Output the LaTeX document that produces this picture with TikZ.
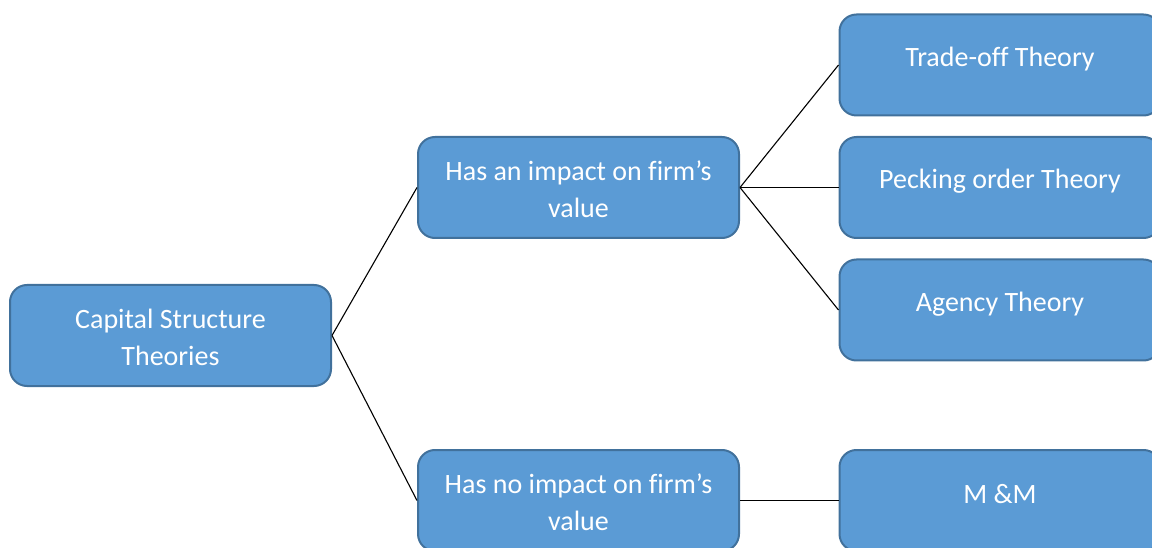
\documentclass[tikz,border=0pt]{standalone}
\usepackage{fontspec}
\setmainfont[Ligatures=NoCommon]{Carlito}
\definecolor{boxfill}{HTML}{5B9BD5}
\definecolor{boxline}{HTML}{41719C}
\begin{document}
\begin{tikzpicture}[x=1pt,y=1pt,
  theorybox/.style={draw=boxline, fill=boxfill, line width=2pt, rounded corners=17pt,
    minimum width=321pt, minimum height=101pt, inner sep=0pt},
  boxtext/.style={text=white, align=center, inner sep=0pt,
    font=\fontsize{28}{37}\selectfont},
  link/.style={draw=black, line width=1.1pt}]
\useasboundingbox (0,0) rectangle (1152,547);
\clip (0,0) rectangle (1152,547);

% boxes
\node[theorybox] (cap)    at (170.5,211.5) {};
\node[theorybox] (imp)    at (578.5,359.5) {};
\node[theorybox] (noimp)  at (578.5,46.5) {};
\node[theorybox] (trade)  at (1000,482) {};
\node[theorybox] (peck)   at (1000,359.5) {};
\node[theorybox] (agency) at (1000,237) {};
\node[theorybox] (mm)     at (1000,46.5) {};

% labels
\node[boxtext] (capT)    at ([yshift=-2pt]cap.center) {Capital Structure\\Theories};
\node[boxtext] (impT)    at ([yshift=-2pt]imp.center) {Has an impact on firm’s\\value};
\node[boxtext] (noimpT)  at ([yshift=-2pt]noimp.center) {Has no impact on firm’s\\value};
\node[boxtext] (tradeT)  at ([yshift=6pt]trade.center) {Trade-off Theory};
\node[boxtext] (peckT)   at ([yshift=6pt]peck.center) {Pecking order Theory};
\node[boxtext] (agencyT) at ([yshift=6pt]agency.center) {Agency Theory};
\node[boxtext] (mmT)     at ([yshift=6pt]mm.center) {M \&M};

% connectors
\draw[link] (cap.east) -- (imp.west);
\draw[link] (cap.east) -- (noimp.west);
\draw[link] (imp.east) -- (trade.west);
\draw[link] (imp.east) -- (peck.west);
\draw[link] (imp.east) -- (agency.west);
\draw[link] (noimp.east) -- (mm.west);
\end{tikzpicture}
\end{document}
